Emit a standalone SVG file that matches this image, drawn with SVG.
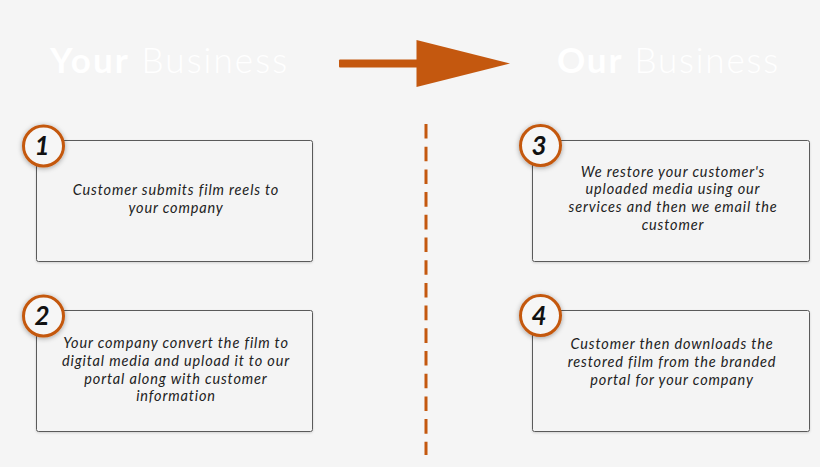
<svg xmlns="http://www.w3.org/2000/svg" width="820" height="467" viewBox="0 0 820 467">
<defs>
<filter id="sh" x="-50%" y="-50%" width="200%" height="200%">
<feDropShadow dx="0" dy="1" stdDeviation="2.5" flood-color="#000" flood-opacity="0.35"/>
</filter>
<filter id="bsh" x="-10%" y="-10%" width="120%" height="130%">
<feDropShadow dx="0" dy="1" stdDeviation="1" flood-color="#000" flood-opacity="0.15"/>
</filter>
</defs>
<style>
.head{font-family:Lato,"Liberation Sans",sans-serif;font-size:35px;fill:#ffffff}
.b{font-weight:700}
.l{font-weight:300}
.box{fill:#f4f4f4;stroke:#5a5a5a;stroke-width:1}
.num{fill:#f6f6f6;stroke:#c4580f;stroke-width:3}
.nt{font-family:Lato,"Liberation Sans",sans-serif;font-size:26px;font-weight:700;font-style:italic;fill:#111;text-anchor:middle}
.tx{font-family:Lato,"Liberation Sans",sans-serif;font-size:14.5px;letter-spacing:0.85px;font-style:italic;fill:#222;text-anchor:middle}
</style>
<rect width="820" height="467" fill="#f5f5f5"/>
<g id="headings">
<text class="head" x="50" y="73" textLength="237" lengthAdjust="spacing"><tspan class="b">Your</tspan><tspan class="l"> Business</tspan></text>
<text class="head" x="557" y="73" textLength="221" lengthAdjust="spacing"><tspan class="b">Our</tspan><tspan class="l"> Business</tspan></text>
</g>
<g id="connectors">
<rect x="339" y="59.5" width="80" height="8" rx="1" fill="#c4580f"/>
<polygon points="416.5,40 510,63.5 416.5,87" fill="#c4580f"/>
<line x1="426" y1="124" x2="426" y2="455" stroke="#c4580f" stroke-width="3" stroke-dasharray="14.6 8.1"/>
</g>
<g id="step1">
<rect class="box" x="36.5" y="140.5" width="276" height="121" rx="2" filter="url(#bsh)"/>
<circle class="num" cx="43.5" cy="146" r="20" filter="url(#sh)"/>
<text class="nt" x="42" y="155">1</text>
<text class="tx" x="176" y="195">Customer submits film reels to</text>
<text class="tx" x="176" y="212.7">your company</text>
</g>
<g id="step2">
<rect class="box" x="36.5" y="310.5" width="276" height="121" rx="2" filter="url(#bsh)"/>
<circle class="num" cx="43.5" cy="316" r="20" filter="url(#sh)"/>
<text class="nt" x="42" y="325">2</text>
<text class="tx" x="176" y="348.3">Your company convert the film to</text>
<text class="tx" x="176" y="366">digital media and upload it to our</text>
<text class="tx" x="176" y="383.7">portal along with customer</text>
<text class="tx" x="176" y="401.4">information</text>
</g>
<g id="step3">
<rect class="box" x="532.5" y="140.5" width="277" height="121" rx="2" filter="url(#bsh)"/>
<circle class="num" cx="540.5" cy="145.5" r="20" filter="url(#sh)"/>
<text class="nt" x="539" y="154.5">3</text>
<text class="tx" x="673" y="176.7">We restore your customer's</text>
<text class="tx" x="673" y="194.4">uploaded media using our</text>
<text class="tx" x="673" y="212.1">services and then we email the</text>
<text class="tx" x="673" y="229.8">customer</text>
</g>
<g id="step4">
<rect class="box" x="532.5" y="310.5" width="277" height="121" rx="2" filter="url(#bsh)"/>
<circle class="num" cx="540.5" cy="315.5" r="20" filter="url(#sh)"/>
<text class="nt" x="539" y="324.5">4</text>
<text class="tx" x="672" y="349.3">Customer then downloads the</text>
<text class="tx" x="672" y="367">restored film from the branded</text>
<text class="tx" x="672" y="384.7">portal for your company</text>
</g>
</svg>
